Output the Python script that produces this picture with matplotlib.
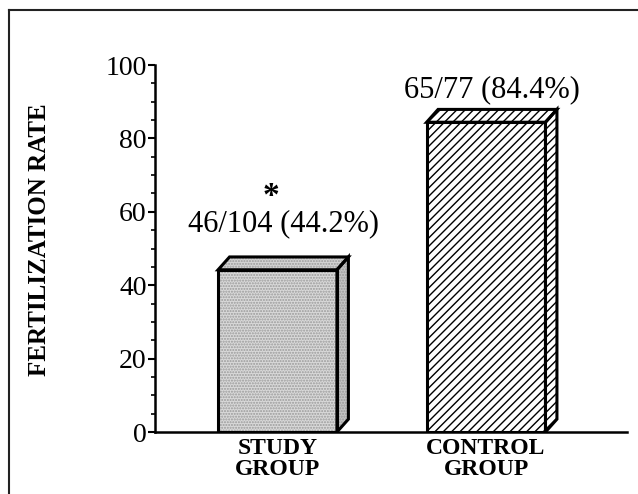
import matplotlib.pyplot as plt
from matplotlib.patches import Polygon
from matplotlib.lines import Line2D
from matplotlib.ticker import MultipleLocator

plt.rcParams["font.family"] = ["Liberation Serif", "DejaVu Serif"]
plt.rcParams["hatch.linewidth"] = 1.0

# data
groups = ["STUDY\nGROUP", "CONTROL\nGROUP"]
rates = [44.2, 84.4]
counts = ["46/104 (44.2%)", "65/77 (84.4%)"]
marks = ["*", ""]

# styling of the two pseudo-3D bars
faces = [("#d9d9d9", "#d4d4d4", "#c4c4c4"), ("white", "white", "white")]
hatches = ["......", "////"]
hatch_cols = ["#9a9a9a", "black"]
label_pad = [5.0, 1.4]

width = 0.57
dx, dy = 0.055, 3.5


def draw_box(ax, x, h, face, hatch, hcol):
    x0, x1 = x - width / 2, x + width / 2
    front = [(x0, 0), (x0, h), (x1, h), (x1, 0)]
    top = [(x0, h), (x0 + dx, h + dy), (x1 + dx, h + dy), (x1, h)]
    side = [(x1, 0), (x1 + dx, dy), (x1 + dx, h + dy), (x1, h)]
    for pts, fc in zip((front, top, side), face):
        # fill + hatch, then a separate black outline
        ax.add_patch(Polygon(pts, closed=True, facecolor=fc, edgecolor=hcol,
                             hatch=hatch, linewidth=0, zorder=3))
        ax.add_patch(Polygon(pts, closed=True, facecolor="none",
                             edgecolor="black", linewidth=2.2, zorder=4,
                             joinstyle="miter"))


fig = plt.figure(figsize=(6.38, 4.94), dpi=100)
ax = fig.add_axes([155 / 638, 1 - 432 / 494, 472 / 638, 367 / 494])

for i, (h, txt, mk) in enumerate(zip(rates, counts, marks)):
    draw_box(ax, i, h, faces[i], hatches[i], hatch_cols[i])
    ty = h + dy + label_pad[i]
    ax.text(i + dx / 2, ty, txt, ha="center", va="bottom", fontsize=22)
    if mk:
        ax.annotate(mk, (i + dx / 2 - 0.06, ty), xytext=(0, 19),
                    textcoords="offset points", ha="center", va="bottom",
                    fontsize=24, fontweight="bold")

ax.set_xlim(-0.5875, 1.676)
ax.set_ylim(0, 100)

ax.spines["top"].set_visible(False)
ax.spines["right"].set_visible(False)
ax.spines["left"].set_linewidth(1.8)
ax.spines["bottom"].set_linewidth(1.8)

ax.yaxis.set_major_locator(MultipleLocator(20))
ax.yaxis.set_minor_locator(MultipleLocator(5))
ax.tick_params(axis="y", which="major", length=5, width=1.5, pad=1,
               labelsize=20)
ax.tick_params(axis="y", which="minor", length=3, width=1.2)

ax.set_xticks(range(len(groups)))
ax.set_xticklabels(groups, fontsize=17, fontweight="bold", linespacing=1.05)
ax.tick_params(axis="x", length=0, pad=4)

fig.text(40 / 638, 1 - 240 / 494, "FERTILIZATION RATE", rotation=90,
         ha="center", va="center", fontsize=18, fontweight="bold")

# outer frame of the scanned figure (top and left edges)
fig.add_artist(Line2D([9 / 638, 1.0], [1 - 10 / 494, 1 - 10 / 494],
                      transform=fig.transFigure, color="#222222", lw=1.5))
fig.add_artist(Line2D([9 / 638, 9 / 638], [0, 1 - 10 / 494],
                      transform=fig.transFigure, color="#222222", lw=1.5))

fig.savefig("out.png", dpi=100)
